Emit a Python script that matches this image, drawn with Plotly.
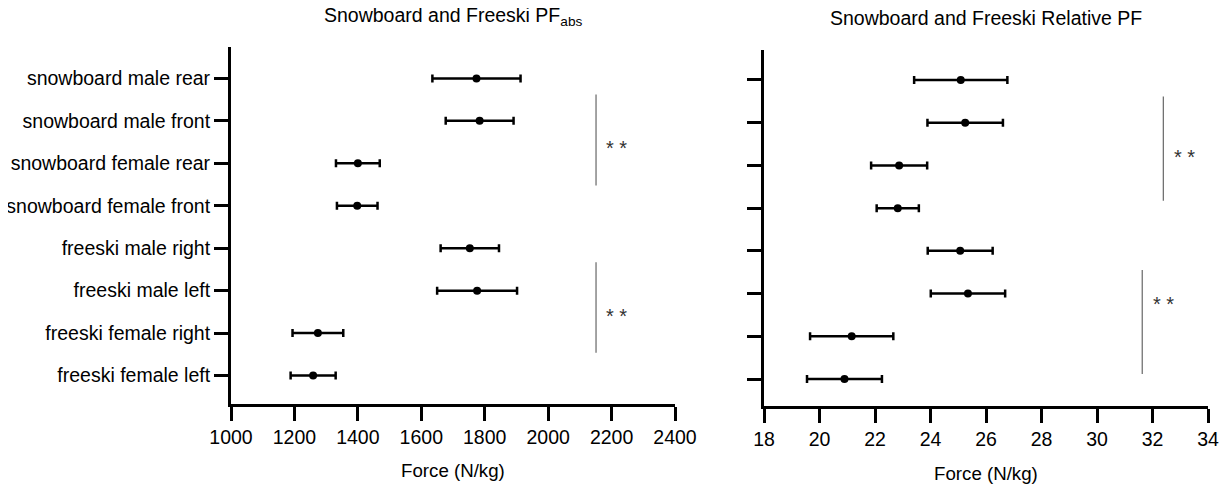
import plotly.graph_objects as go

categories = [
    "snowboard male rear",
    "snowboard male front",
    "snowboard female rear",
    "snowboard female front",
    "freeski male right",
    "freeski male left",
    "freeski female right",
    "freeski female left",
]

abs_mean = [1774, 1784, 1400, 1398, 1753, 1776, 1274, 1259]
abs_err = [139, 107, 69, 64, 92, 126, 80, 71]

rel_mean = [25.09, 25.25, 22.87, 22.82, 25.07, 25.35, 21.16, 20.90]
rel_err = [1.68, 1.36, 1.01, 0.76, 1.17, 1.34, 1.50, 1.35]

abs_ticks = [1000, 1200, 1400, 1600, 1800, 2000, 2200, 2400]
rel_ticks = [18, 20, 22, 24, 26, 28, 30, 32, 34]

FONT = "Liberation Sans, Arial, sans-serif"
OFF = 8  # default page body margin
W, H = 1228 - OFF, 484 - OFF


def px(x):
    return (x - OFF) / W


def py(y):
    return 1 - (y - OFF) / H


fig = go.Figure()

fig.add_trace(go.Scatter(
    x=abs_mean, y=categories, mode="markers",
    marker=dict(color="black", size=8),
    error_x=dict(type="data", array=abs_err, visible=True,
                 color="black", thickness=2.5, width=4),
    xaxis="x", yaxis="y", showlegend=False,
))
fig.add_trace(go.Scatter(
    x=rel_mean, y=categories, mode="markers",
    marker=dict(color="black", size=8),
    error_x=dict(type="data", array=rel_err, visible=True,
                 color="black", thickness=2.5, width=4),
    xaxis="x2", yaxis="y2", showlegend=False,
))

cat_order = categories[::-1]
axis_common = dict(
    showline=True, linecolor="black", linewidth=3,
    ticks="outside", ticklen=14, tickwidth=3, tickcolor="black",
    showgrid=False, zeroline=False, automargin=False,
    tickfont=dict(family=FONT, size=19.5, color="black"),
)

fig.update_layout(
    template="none",
    width=W, height=H,
    margin=dict(l=0, r=0, t=0, b=0, pad=0),
    paper_bgcolor="white", plot_bgcolor="white",
    font=dict(family=FONT, color="black"),
    xaxis=dict(domain=[px(231), px(675)], range=[1000, 2400],
               tickvals=abs_ticks, anchor="y", **axis_common),
    yaxis=dict(domain=[py(404), py(47)], type="category",
               categoryorder="array", categoryarray=cat_order,
               range=[-0.67, 7.74], anchor="x", **axis_common),
    xaxis2=dict(domain=[px(764), px(1208)], range=[18, 34],
                tickvals=rel_ticks, anchor="y2", **axis_common),
    yaxis2=dict(domain=[py(406), py(50)], type="category",
                categoryorder="array", categoryarray=cat_order,
                range=[-0.63, 7.70], anchor="x2", showticklabels=False,
                **axis_common),
)

# significance brackets
brackets = [
    ("x", "y", 2151, 6.62, 4.48),
    ("x", "y", 2151, 2.67, 0.54),
    ("x2", "y2", 32.39, 6.61, 4.17),
    ("x2", "y2", 31.63, 2.55, 0.12),
]
for xr, yr, xv, y0, y1 in brackets:
    fig.add_shape(type="line", xref=xr, yref=yr, x0=xv, x1=xv, y0=y0, y1=y1,
                  line=dict(color="#666666", width=1.2))

stars = [
    ("x", "y", 2216, 5.5),
    ("x", "y", 2216, 1.55),
    ("x2", "y2", 33.15, 5.34),
    ("x2", "y2", 32.4, 1.9),
]
for xr, yr, xv, yv in stars:
    fig.add_annotation(xref=xr, yref=yr, x=xv, y=yv, text="* *", showarrow=False,
                       xanchor="center", yanchor="middle", yshift=-6,
                       font=dict(family=FONT, size=20, color="#333333"))

# titles
fig.add_annotation(xref="paper", yref="paper", x=px(453), y=py(16),
                   xanchor="center", yanchor="middle",
                   text="Snowboard and Freeski PF<sub>abs</sub>", showarrow=False,
                   font=dict(family=FONT, size=19.5, color="black"))
fig.add_annotation(xref="paper", yref="paper", x=px(986), y=py(18),
                   xanchor="center", yanchor="middle",
                   text="Snowboard and Freeski Relative PF", showarrow=False,
                   font=dict(family=FONT, size=19.5, color="black"))
# axis titles
fig.add_annotation(xref="paper", yref="paper", x=px(453), y=py(470),
                   xanchor="center", yanchor="middle",
                   text="Force (N/kg)", showarrow=False,
                   font=dict(family=FONT, size=18.7, color="black"))
fig.add_annotation(xref="paper", yref="paper", x=px(986), y=py(473),
                   xanchor="center", yanchor="middle",
                   text="Force (N/kg)", showarrow=False,
                   font=dict(family=FONT, size=18.7, color="black"))

fig.write_html("out.html")
